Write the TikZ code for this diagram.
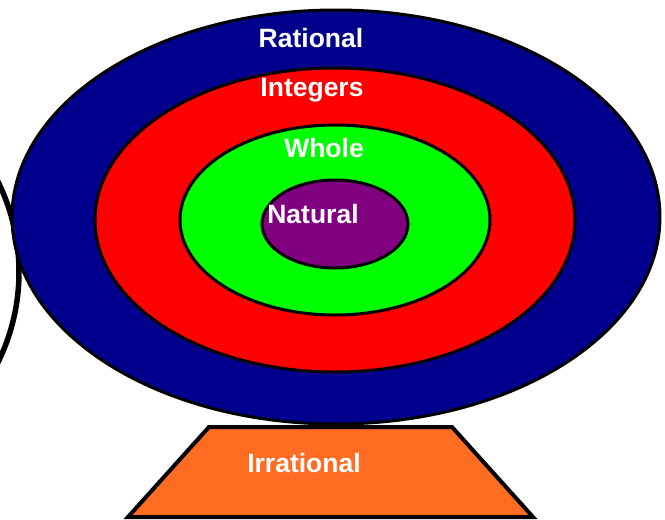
\documentclass[tikz,border=0pt]{standalone}
\usepackage{fontspec}
\setmainfont{Liberation Sans}
\usetikzlibrary{shapes.geometric}
\definecolor{navyset}{RGB}{0,0,140}
\definecolor{redset}{RGB}{255,0,0}
\definecolor{greenset}{RGB}{0,255,0}
\definecolor{purpleset}{RGB}{128,0,128}
\definecolor{orangeset}{RGB}{255,108,34}
\tikzset{
  setellipse/.style={ellipse, draw=black, line width=3pt, inner sep=0pt},
  setlabel/.style={text=white, font=\fontsize{26.5}{30}\selectfont\bfseries, inner sep=0pt}
}
\begin{document}
\begin{tikzpicture}[x=1pt,y=-1pt]
\useasboundingbox (0,0) rectangle (665,520);
\fill[white] (0,0) rectangle (665,520);
% partial circle at left
\begin{scope}
\clip (0,0) rectangle (665,520);
\draw[line width=5.5pt] (-185,272) circle [radius=204];
\end{scope}
% base trapezoid
\draw[line width=4pt, fill=orangeset, line join=miter] (209,427) -- (452,427) -- (533,517) -- (128,517) -- cycle;
\node[setlabel] (irr) at (304,463) {Irrational};
% nested sets
\node[setellipse, fill=navyset, minimum width=648pt, minimum height=414pt] (rat) at (336,217) {};
\node[setellipse, fill=redset, minimum width=480pt, minimum height=304pt] (int) at (335,220) {};
\node[setellipse, fill=greenset, minimum width=310pt, minimum height=190pt] (who) at (335,220) {};
\node[setellipse, fill=purpleset, minimum width=146pt, minimum height=88pt] (nat) at (335,224) {};
\node[setlabel] (ratl) at (311,38) {Rational};
\node[setlabel] (intl) at (312,90) {Integers};
\node[setlabel] (whol) at (324,148) {Whole};
\node[setlabel] (natl) at (313,214) {Natural};
\end{tikzpicture}
\end{document}
